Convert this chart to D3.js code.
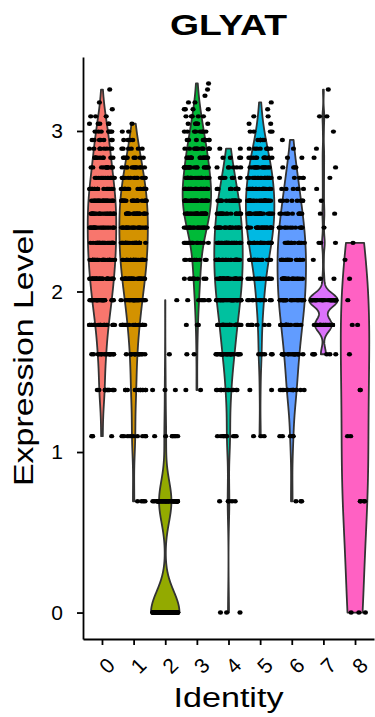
<!DOCTYPE html>
<html>
<head>
<meta charset="utf-8">
<script src="https://cdn.jsdelivr.net/npm/d3@7"></script>
<style>
  html, body { margin: 0; padding: 0; background: #fff; }
  svg { display: block; }
  text { font-family: "Liberation Sans", Arial, Helvetica, sans-serif; fill: #000; }
</style>
</head>
<body>
<svg id="chart" width="375" height="717"></svg>
<script>
// Violin plot of GLYAT expression per cluster identity
const gene = "GLYAT";
const identities = ["0", "1", "2", "3", "4", "5", "6", "7", "8"];
const fills = ["#F8766D", "#D39200", "#93AA00", "#00BA38", "#00C19F", "#00B9E3", "#619CFF", "#DB72FB", "#FF61C3"];

// distinct log-normalised expression values present in the data
const exprLevels = [0, 0.693, 1.099, 1.386, 1.609, 1.792, 1.946, 2.079, 2.197, 2.303,
  2.398, 2.485, 2.565, 2.639, 2.708, 2.773, 2.833, 2.890, 2.944, 2.996,
  3.045, 3.091, 3.135, 3.178, 3.219, 3.258, 3.296];

// number of cells found at each expression level, one array per identity
const cells0 = [0, 0, 4, 12, 15, 20, 27, 28, 29, 27, 24, 23, 21, 17, 14, 12, 10, 8, 7, 7, 5, 3, 1, 1, 0, 1, 0];
const cells1 = [0, 4, 9, 12, 13, 18, 23, 27, 29, 27, 24, 23, 21, 17, 13, 11, 8, 6, 4, 2, 1, 0, 0, 0, 0, 0, 0];
const cells2 = [120, 52, 7, 3, 1, 0, 1, 0, 0, 0, 0, 0, 0, 0, 0, 0, 0, 0, 0, 0, 0, 0, 0, 0, 0, 0, 0];
const cells3 = [0, 0, 0, 2, 2, 4, 7, 10, 11, 14, 22, 27, 27, 26, 21, 18, 16, 13, 11, 8, 6, 5, 4, 2, 1, 1, 1];
const cells4 = [3, 5, 9, 12, 23, 28, 33, 34, 31, 28, 24, 20, 17, 12, 8, 6, 4, 2, 0, 0, 0, 0, 0, 0, 0, 0, 0];
const cells5 = [0, 0, 3, 2, 6, 7, 11, 14, 19, 24, 25, 25, 23, 20, 18, 14, 12, 8, 6, 4, 2, 2, 1, 1, 0, 0, 0];
const cells6 = [0, 3, 5, 14, 17, 20, 23, 20, 19, 17, 13, 11, 8, 6, 5, 4, 2, 1, 1, 0, 0, 0, 0, 0, 0, 0, 0];
const cells7 = [0, 0, 0, 0, 6, 20, 34, 2, 1, 3, 1, 2, 1, 1, 1, 1, 1, 1, 0, 1, 0, 2, 0, 0, 0, 1, 0];
const cells8 = [3, 4, 2, 2, 1, 2, 1, 1, 1, 1, 0, 0, 0, 0, 0, 0, 0, 0, 0, 0, 0, 0, 0, 0, 0, 0, 0];
const cellCounts = [cells0, cells1, cells2, cells3, cells4, cells5, cells6, cells7, cells8];

const yTicks = [0, 1, 2, 3];
const xTitle = "Identity";
const yTitle = "Expression Level";

// ---- layout ----
const panel = { left: 83, right: 374, top: 57, bottom: 639 };

const svg = d3.select("#chart");

// expand each identity's counts into one value per cell
const groups = identities.map((id, i) => {
  const values = [];
  cellCounts[i].forEach((n, j) => { for (let c = 0; c < n; c++) values.push(exprLevels[j]); });
  return { id, i, values, fill: fills[i] };
});

const allValues = groups.flatMap(g => g.values);
const vMax = d3.max(allValues), vMin = Math.min(0, d3.min(allValues));
const pad = (vMax - vMin) * 0.05;

const x = d3.scalePoint().domain(identities).range([panel.left, panel.right]).padding(0.6);
const y = d3.scaleLinear().domain([vMin - pad, vMax + pad]).range([panel.bottom, panel.top]);
const halfWidth = x.step() * 0.45;

// Silverman's rule of thumb (R bw.nrd0)
function bwNrd0(v) {
  const s = v.slice().sort(d3.ascending);
  const hi = d3.deviation(s) || 0;
  const iqr = d3.quantileSorted(s, 0.75) - d3.quantileSorted(s, 0.25);
  let lo = Math.min(hi, iqr / 1.34);
  if (!(lo > 0)) lo = hi || Math.abs(s[0]) || 1;
  return 0.9 * lo * Math.pow(s.length, -0.2);
}

// gaussian kernel density, evaluated between the data extremes (trimmed violin)
function density(v) {
  const bw = bwNrd0(v);
  const [lo, hi] = d3.extent(v);
  const nPts = 512;
  const uniq = d3.rollups(v, a => a.length, d => d);
  const norm = 1 / (v.length * bw * Math.sqrt(2 * Math.PI));
  const pts = [];
  for (let k = 0; k < nPts; k++) {
    const t = lo + (hi - lo) * k / (nPts - 1);
    let s = 0;
    for (const [val, n] of uniq) {
      const z = (t - val) / bw;
      s += n * Math.exp(-0.5 * z * z);
    }
    pts.push([t, s * norm]);
  }
  return pts;
}

// ---- violins ----
const gViolins = svg.append("g");
groups.forEach(g => {
  const dens = density(g.values);
  const dMax = d3.max(dens, d => d[1]);
  const cx = x(g.id);
  const right = dens.map(([t, d]) => [cx + halfWidth * d / dMax, y(t)]);
  const left = dens.slice().reverse().map(([t, d]) => [cx - halfWidth * d / dMax, y(t)]);
  gViolins.append("path")
    .attr("d", d3.line()(right.concat(left)) + "Z")
    .attr("fill", g.fill)
    .attr("stroke", "#333333")
    .attr("stroke-width", 1.8)
    .attr("stroke-linejoin", "round");
});

// ---- jittered cells ----
const jitter = d3.randomUniform.source(d3.randomLcg(0.2718))(-0.4, 0.4);
const gPts = svg.append("g");
groups.forEach(g => {
  const cx = x(g.id);
  g.values.forEach(v => {
    gPts.append("ellipse")
      .attr("cx", cx + jitter() * x.step())
      .attr("cy", y(v))
      .attr("rx", 2.6)
      .attr("ry", 2.2)
      .attr("fill", "#000");
  });
});

// ---- axes ----
const yAxis = svg.append("g")
  .attr("transform", `translate(${panel.left},0)`)
  .call(d3.axisLeft(y).tickValues(yTicks).tickFormat(d3.format("d")).tickSize(6).tickSizeOuter(0).tickPadding(14));
const xAxis = svg.append("g")
  .attr("transform", `translate(0,${panel.bottom})`)
  .call(d3.axisBottom(x).tickSize(6).tickSizeOuter(0).tickPadding(0));

[yAxis, xAxis].forEach(a => {
  a.select(".domain").attr("stroke", "#000").attr("stroke-width", 1.8);
  a.selectAll(".tick line").attr("stroke", "#000").attr("stroke-width", 1.8);
  a.selectAll(".tick text").attr("font-size", 21).attr("fill", "#000")
    .style("font-family", '"Liberation Sans", Arial, sans-serif');
});

xAxis.selectAll(".tick text")
  .attr("x", 0).attr("y", 0).attr("dy", null)
  .attr("text-anchor", "end")
  .attr("dominant-baseline", "hanging")
  .attr("transform", "translate(3,17) rotate(-45)");

// ---- titles ----
svg.append("text")
  .attr("x", (panel.left + panel.right) / 2).attr("y", 35)
  .attr("text-anchor", "middle")
  .attr("font-size", 30).attr("font-weight", "bold")
  .attr("textLength", 117).attr("lengthAdjust", "spacingAndGlyphs")
  .text(gene);

svg.append("text")
  .attr("x", (panel.left + panel.right) / 2).attr("y", 707)
  .attr("text-anchor", "middle")
  .attr("font-size", 27)
  .attr("textLength", 110).attr("lengthAdjust", "spacingAndGlyphs")
  .text(xTitle);

svg.append("text")
  .attr("transform", `translate(33,${(panel.top + panel.bottom) / 2 + 9}) rotate(-90)`)
  .attr("text-anchor", "middle")
  .attr("font-size", 27)
  .attr("textLength", 258).attr("lengthAdjust", "spacingAndGlyphs")
  .text(yTitle);
</script>
</body>
</html>
